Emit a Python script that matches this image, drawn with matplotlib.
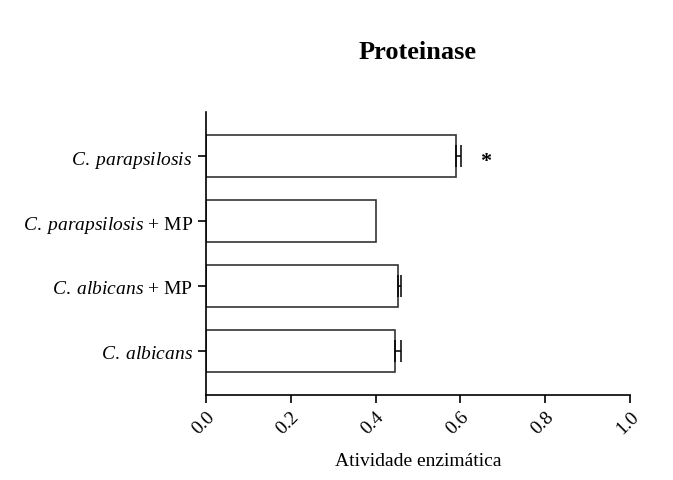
import matplotlib
matplotlib.use("Agg")
import matplotlib.pyplot as plt

plt.rcParams['font.family'] = 'Liberation Serif'
plt.rcParams['mathtext.fontset'] = 'custom'
plt.rcParams['mathtext.rm'] = 'Liberation Serif'
plt.rcParams['mathtext.it'] = 'Liberation Serif:italic'

groups = [r'$\mathit{C.\;albicans}$',
          r'$\mathit{C.\;albicans}$ + MP',
          r'$\mathit{C.\;parapsilosis}$ + MP',
          r'$\mathit{C.\;parapsilosis}$']
means = [0.445, 0.454, 0.400, 0.590]
errs = [0.015, 0.005, 0.0, 0.011]
xticks = [0.0, 0.2, 0.4, 0.6, 0.8, 1.0]

fig = plt.figure(figsize=(6.73, 4.81), dpi=100)
ax = fig.add_axes([0.306, 0.177, 0.630, 0.588])

pos = list(range(len(groups)))
ax.barh(pos, means, height=0.65, color='white', edgecolor='#333333', linewidth=1.2)
# only positive error shown, skip groups without error
ep = [p for p, e in zip(pos, errs) if e > 0]
em = [m for m, e in zip(means, errs) if e > 0]
ee = [e for e in errs if e > 0]
ax.errorbar(em, ep, xerr=[[0] * len(ee), ee], fmt='none',
            ecolor='black', elinewidth=1.1, capsize=8, capthick=1.1)
ax.text(0.66, pos[3] - 0.07, '*', fontsize=16, fontweight='bold', ha='center', va='center')

ax.set_xlim(0, 1.0)
ax.set_ylim(-0.67, 3.68)
ax.set_xticks(xticks)
ax.set_xticklabels(['%.1f' % v for v in xticks], rotation=45, ha='right', rotation_mode='anchor')
ax.set_yticks(pos)
ax.set_yticklabels(groups)
ax.tick_params(axis='both', labelsize=14, width=1.2, length=6)
ax.tick_params(axis='x', pad=3)
ax.set_xlabel('Atividade enzimática', fontsize=14, labelpad=11)
ax.set_title('Proteinase', fontsize=19, fontweight='bold', pad=39)

for s in ['top', 'right']:
    ax.spines[s].set_visible(False)
for s in ['left', 'bottom']:
    ax.spines[s].set_linewidth(1.2)

fig.savefig('out.png', dpi=100)
